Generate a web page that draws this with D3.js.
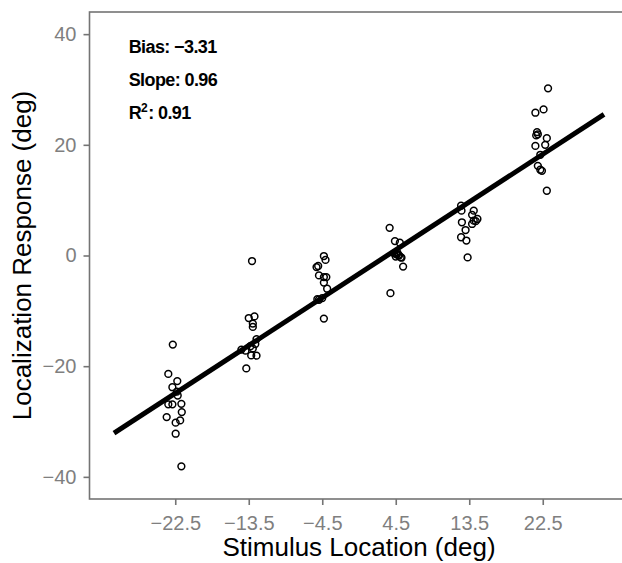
<!DOCTYPE html>
<html><head><meta charset="utf-8">
<script src="https://cdn.jsdelivr.net/npm/d3@7"></script>
<style>body{margin:0;background:#fff}svg{display:block}</style>
</head><body>
<svg id="chart" width="622" height="563"></svg>
<script>
const xTicks = [-22.5, -13.5, -4.5, 4.5, 13.5, 22.5];
const yTicks = [-40, -20, 0, 20, 40];
const stimX = [
  -22.8,-23.35,-22.25,-22.85,-22.2,-23.35,-22.85,-21.75,-21.7,-23.55,-21.9,-22.45,-22.45,-21.75,-22.3,
  -13.1,-13.5,-12.8,-13.0,-13.0,-12.55,-12.7,-13.3,-14.4,-13.9,-13.0,-13.2,-12.55,-13.8,
  -4.3,-4.1,-5.0,-5.2,-4.9,-4.3,-4.0,-4.3,-3.9,-4.9,-4.5,-5.1,-4.3,
  3.75,4.4,5.0,4.3,4.6,4.9,5.1,4.8,4.5,5.2,5.4,3.85,4.7,
  12.5,12.55,14.05,13.85,12.6,14.05,14.3,13.85,14.5,13.05,12.5,13.15,13.3,
  23.15,22.6,21.6,21.8,21.9,21.7,23.0,22.8,21.6,22.2,21.9,22.2,22.4,23.0
];
const response = [
  -16.1,-21.4,-22.7,-23.8,-25.3,-26.9,-26.9,-26.8,-28.3,-29.2,-29.8,-30.2,-32.2,-38.1,-24.6,
  -1.0,-11.3,-11.0,-12.3,-12.9,-15.1,-16.0,-16.4,-17.0,-17.2,-16.8,-18.05,-18.1,-20.4,
  -0.1,-0.8,-1.9,-2.1,-3.6,-3.9,-3.9,-4.9,-6.0,-8.0,-7.7,-7.9,-11.4,
  5.0,2.6,2.3,0.4,0.2,0.0,-0.3,0.1,-0.2,-0.4,-2.0,-6.8,0.5,
  9.0,8.1,8.1,7.35,6.0,6.3,6.2,5.7,6.6,4.6,3.3,2.7,-0.35,
  30.2,26.4,25.8,22.3,21.9,21.7,21.2,20.0,19.8,18.2,16.2,15.5,15.3,11.7
];
const fitIntercept = -3.31;
const fitSlope = 0.96;
const fitRange = [-30, 30];
const statLabels = ["Bias: \u22123.31", "Slope: 0.96", "R2: 0.91"];

const svg = d3.select("#chart");
const L = 89.5, R = 628.5, T = 12, B = 499;
const x = d3.scaleLinear().domain([-33, 33]).range([L, R]);
const y = d3.scaleLinear().domain([-44, 44]).range([B, T]);
const grey = "#747474";
const font = "Liberation Sans, Arial, sans-serif";

// points
svg.append("g").selectAll("circle").data(stimX.map((d,i)=>[d,response[i]])).join("circle")
  .attr("cx", d=>x(d[0])).attr("cy", d=>y(d[1])).attr("r", 3.4)
  .attr("fill", "none").attr("stroke", "#000").attr("stroke-width", 1.5);

// fit line
svg.append("line")
  .attr("x1", x(fitRange[0])).attr("y1", y(fitIntercept + fitSlope*fitRange[0]))
  .attr("x2", x(fitRange[1])).attr("y2", y(fitIntercept + fitSlope*fitRange[1]))
  .attr("stroke", "#000").attr("stroke-width", 5);

// border
svg.append("rect").attr("x", L).attr("y", T).attr("width", R-L).attr("height", B-T)
  .attr("fill", "none").attr("stroke", grey).attr("stroke-width", 1.6);

// axes
const fmt = d => String(d).replace("-", "\u2212");
const xa = svg.append("g").attr("transform", `translate(0,${B})`)
  .call(d3.axisBottom(x).tickValues(xTicks).tickSize(6).tickPadding(6).tickFormat(fmt));
const ya = svg.append("g").attr("transform", `translate(${L},0)`)
  .call(d3.axisLeft(y).tickValues(yTicks).tickSize(6).tickPadding(7).tickFormat(fmt));
[xa, ya].forEach(a => {
  a.select(".domain").remove();
  a.selectAll(".tick line").attr("stroke", grey).attr("stroke-width", 1.6);
  a.selectAll(".tick text").attr("fill", "#7f7f7f").style("font-family", font).style("font-size", "20px");
});
xa.selectAll(".tick text").attr("dy", "0.95em");

// titles
svg.append("text").attr("x", (L+R)/2).attr("y", 556).attr("text-anchor", "middle")
  .style("font-family", font).style("font-size", "26px").attr("fill", "#000")
  .text("Stimulus Location (deg)");
svg.append("text").attr("transform", `translate(31,${(T+B)/2}) rotate(-90)`).attr("text-anchor", "middle")
  .style("font-family", font).style("font-size", "26px").attr("fill", "#000")
  .text("Localization Response (deg)");

// stats
const sx = x(-28.2);
const baselines = [53, 86, 119];
statLabels.forEach((s, i) => {
  const t = svg.append("text").attr("x", sx).attr("y", baselines[i])
    .style("font-family", font).style("font-size", "18px")
    .style("font-weight", "bold").style("letter-spacing", "-0.6px").attr("fill", "#000");
  if (s.startsWith("R2")) {
    t.append("tspan").text("R");
    t.append("tspan").attr("dy", -7).style("font-size", "12px").text("2");
    t.append("tspan").attr("dy", 7).attr("dx", 1).text(s.slice(2));
  } else {
    t.text(s);
  }
});
</script>
</body></html>
